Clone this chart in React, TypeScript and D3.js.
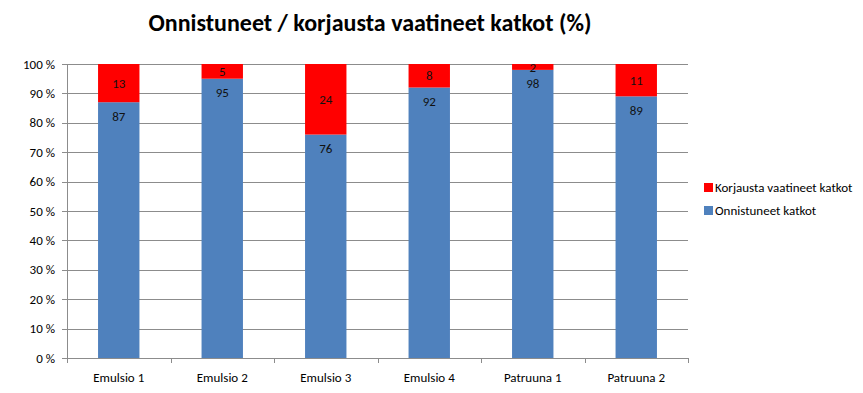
import * as d3 from "d3";
import { useEffect, useRef } from "react";

const categories = ["Emulsio 1", "Emulsio 2", "Emulsio 3", "Emulsio 4", "Patruuna 1", "Patruuna 2"];
const onnistuneet = [87, 95, 76, 92, 98, 89];
const korjausta = [13, 5, 24, 8, 2, 11];
const yTicks = [0, 10, 20, 30, 40, 50, 60, 70, 80, 90, 100];

const seriesNames = ["Korjausta vaatineet katkot", "Onnistuneet katkot"];
const colors = { blue: "#4F81BD", red: "#FF0000" };
const font = "Calibri, Carlito, 'Open Sans', 'Noto Sans', sans-serif";

export default function App() {
  const svgRef = useRef<SVGSVGElement>(null);

  useEffect(() => {
    if (!svgRef.current) return;
    const root = d3.select(svgRef.current);
    root.selectAll("*").remove();

    const width = 863;
    const height = 393;
    const margin = { top: 64, right: 175, bottom: 35, left: 67 };
    const innerW = width - margin.left - margin.right;
    const innerH = height - margin.top - margin.bottom;

    root.append("rect").attr("width", width).attr("height", height).attr("fill", "#fff");

    // Title
    root
      .append("text")
      .attr("x", 370)
      .attr("y", 31)
      .attr("text-anchor", "middle")
      .style("font-family", font)
      .style("font-size", "24px")
      .style("font-weight", "bold")
      .text("Onnistuneet / korjausta vaatineet katkot (%)");

    const svg = root.append("g").attr("transform", `translate(${margin.left},${margin.top})`);

    const x = d3.scaleBand().domain(categories).range([0, innerW]).paddingInner(0.6).paddingOuter(0.3);
    const band = d3.scaleBand().domain(categories).range([0, innerW]);
    const y = d3.scaleLinear().domain([0, 100]).range([innerH, 0]);

    // Gridlines
    svg
      .selectAll(".grid")
      .data(yTicks)
      .enter()
      .append("line")
      .attr("x1", -5)
      .attr("x2", innerW)
      .attr("y1", (d) => Math.round(y(d)) + 0.5)
      .attr("y2", (d) => Math.round(y(d)) + 0.5)
      .attr("stroke", "#8c8c8c")
      .attr("stroke-width", 1);

    // Y labels
    svg
      .selectAll(".ylab")
      .data(yTicks)
      .enter()
      .append("text")
      .attr("x", -12)
      .attr("y", (d) => y(d))
      .attr("dy", "0.35em")
      .attr("text-anchor", "end")
      .style("font-family", font)
      .style("font-size", "13px")
      .text((d) => `${d} %`);

    // Y axis line
    svg
      .append("line")
      .attr("x1", 0.5)
      .attr("x2", 0.5)
      .attr("y1", 0)
      .attr("y2", innerH)
      .attr("stroke", "#8c8c8c");

    // X tick marks at category boundaries
    const boundaries = categories.map((c) => band(c) || 0).concat([innerW]);
    svg
      .selectAll(".xtick")
      .data(boundaries)
      .enter()
      .append("line")
      .attr("x1", (d) => Math.round(d) + 0.5)
      .attr("x2", (d) => Math.round(d) + 0.5)
      .attr("y1", innerH)
      .attr("y2", innerH + 5)
      .attr("stroke", "#8c8c8c");

    // Blue bars
    svg
      .selectAll(".bar-blue")
      .data(categories)
      .enter()
      .append("rect")
      .attr("x", (d) => x(d) || 0)
      .attr("y", (_, i) => y(onnistuneet[i]))
      .attr("width", x.bandwidth())
      .attr("height", (_, i) => innerH - y(onnistuneet[i]))
      .attr("fill", colors.blue);

    // Red bars
    svg
      .selectAll(".bar-red")
      .data(categories)
      .enter()
      .append("rect")
      .attr("x", (d) => x(d) || 0)
      .attr("y", (_, i) => y(onnistuneet[i] + korjausta[i]))
      .attr("width", x.bandwidth())
      .attr("height", (_, i) => y(onnistuneet[i]) - y(onnistuneet[i] + korjausta[i]))
      .attr("fill", colors.red);

    // Labels
    svg
      .selectAll(".lab-blue")
      .data(categories)
      .enter()
      .append("text")
      .attr("x", (d) => (x(d) || 0) + x.bandwidth() / 2)
      .attr("y", (_, i) => y(onnistuneet[i]) + 14)
      .attr("dy", "0.35em")
      .attr("text-anchor", "middle")
      .style("font-family", font)
      .style("font-size", "13px")
      .attr("fill", "#111")
      .text((_, i) => onnistuneet[i]);

    svg
      .selectAll(".lab-red")
      .data(categories)
      .enter()
      .append("text")
      .attr("x", (d) => (x(d) || 0) + x.bandwidth() / 2)
      .attr("y", (_, i) => (y(onnistuneet[i]) + y(onnistuneet[i] + korjausta[i])) / 2)
      .attr("dy", "0.35em")
      .attr("text-anchor", "middle")
      .style("font-family", font)
      .style("font-size", "13px")
      .attr("fill", "#111")
      .text((_, i) => korjausta[i]);

    // X labels
    svg
      .selectAll(".xlab")
      .data(categories)
      .enter()
      .append("text")
      .attr("x", (d) => (band(d) || 0) + band.bandwidth() / 2)
      .attr("y", innerH + 19)
      .attr("dy", "0.35em")
      .attr("text-anchor", "middle")
      .style("font-family", font)
      .style("font-size", "13px")
      .text((d) => d);

    // Legend
    const legend = root.append("g").attr("transform", "translate(704,183)");
    seriesNames.forEach((name, i) => {
      legend
        .append("rect")
        .attr("x", 0)
        .attr("y", i * 23)
        .attr("width", 9)
        .attr("height", 9)
        .attr("fill", i === 0 ? colors.red : colors.blue);
      legend
        .append("text")
        .attr("x", 11)
        .attr("y", i * 23 + 4.5)
        .attr("dy", "0.35em")
        .style("font-family", font)
        .style("font-size", "13px")
        .text(name);
    });
  }, []);

  return <svg ref={svgRef} width={863} height={393} style={{ display: "block", margin: -8 }} />;
}
